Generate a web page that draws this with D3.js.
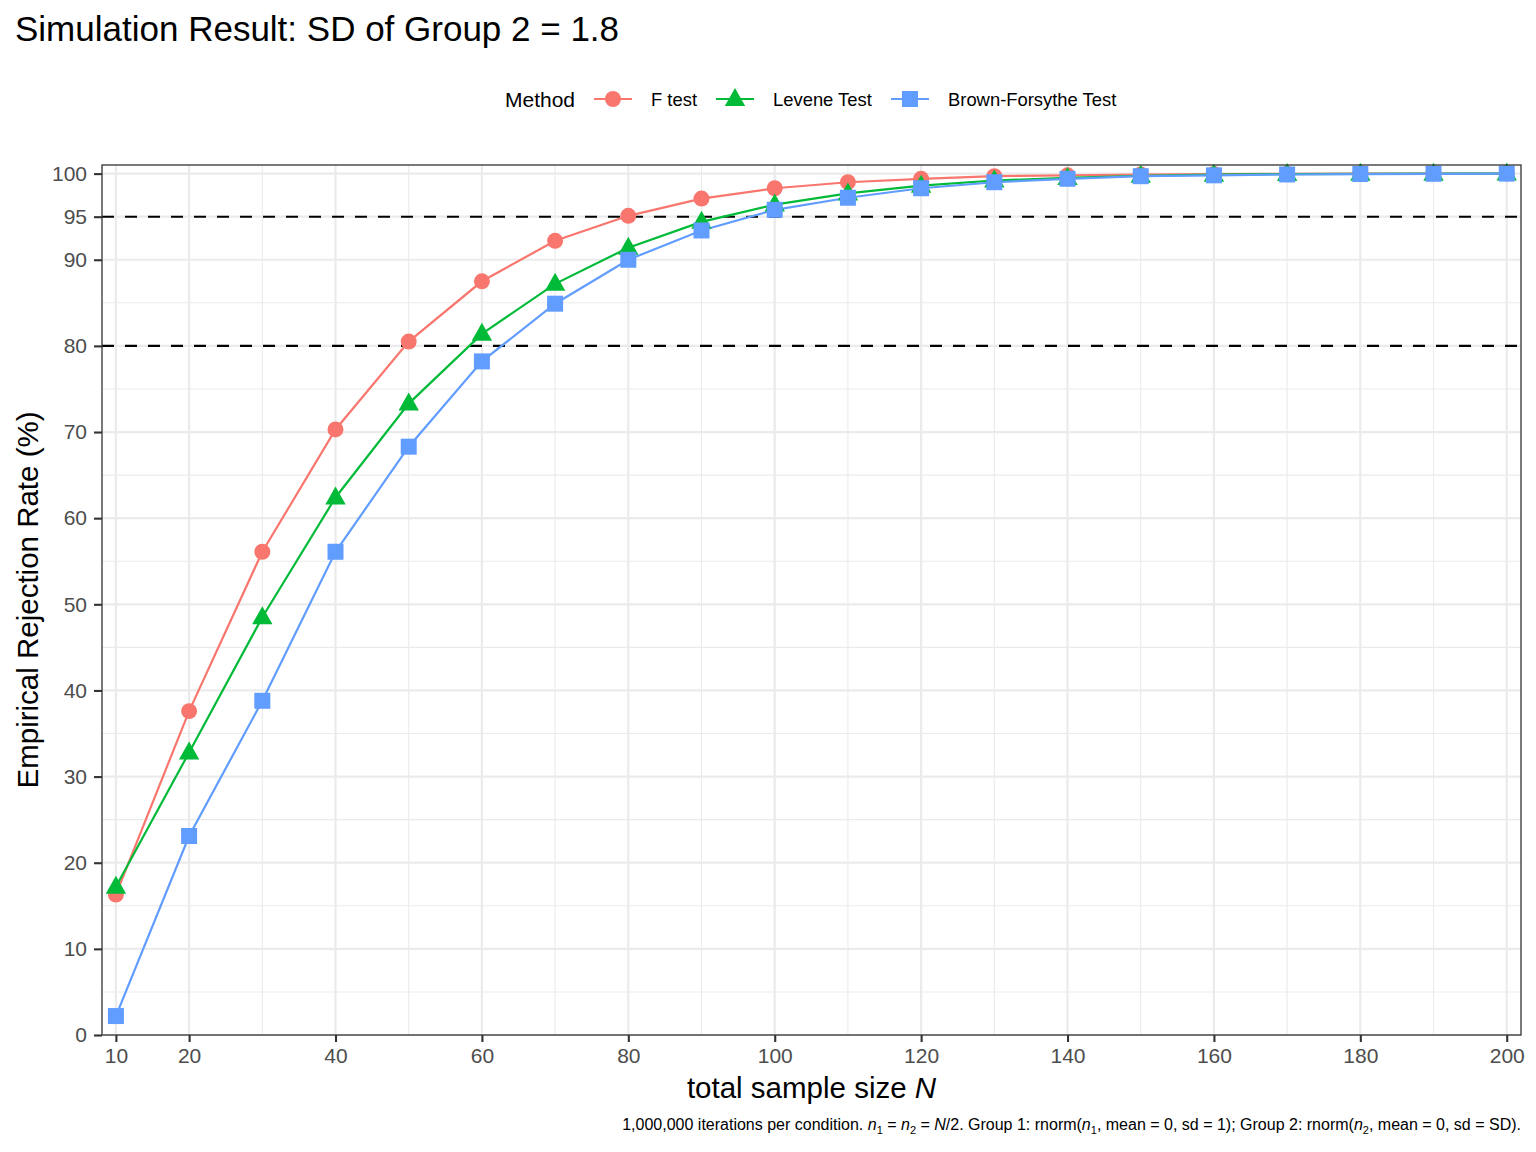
<!DOCTYPE html>
<html>
<head>
<meta charset="utf-8">
<script src="https://cdn.jsdelivr.net/npm/d3@7"></script>
<style>
  body { margin: 0; background: #fff; }
  svg { font-family: "Liberation Sans", Arial, sans-serif; }
</style>
</head>
<body>
<div id="chart"></div>
<script>
// Data
var sampleSizes = [10, 20, 30, 40, 50, 60, 70, 80, 90, 100, 110, 120, 130, 140, 150, 160, 170, 180, 190, 200];
var fTest = [16.3, 37.6, 56.1, 70.3, 80.5, 87.5, 92.2, 95.1, 97.1, 98.3, 99.0, 99.4, 99.7, 99.8, 99.9, 99.95, 99.98, 99.99, 100, 100];
var leveneTest = [17.2, 32.8, 48.5, 62.4, 73.3, 81.4, 87.2, 91.4, 94.4, 96.4, 97.7, 98.6, 99.2, 99.5, 99.75, 99.88, 99.95, 99.98, 99.99, 100];
var bfTest = [2.2, 23.1, 38.8, 56.1, 68.3, 78.2, 84.9, 90.0, 93.4, 95.8, 97.2, 98.3, 99.0, 99.4, 99.7, 99.8, 99.9, 99.95, 99.98, 100];
var methodNames = ["F test", "Levene Test", "Brown-Forsythe Test"];
var methodColors = ["#F8766D", "#00BA38", "#619CFF"];
var methodShapes = ["circle", "triangle", "square"];
var xBreaks = [10, 20, 40, 60, 80, 100, 120, 140, 160, 180, 200];
var xMinor = [30, 50, 70, 90, 110, 130, 150, 170, 190];
var yBreaks = [0, 10, 20, 30, 40, 50, 60, 70, 80, 90, 95, 100];
var yMinor = [5, 15, 25, 35, 45, 55, 65, 75, 85];
var refLines = [80, 95];

var W = 1536, H = 1152;
var panel = { left: 102, top: 165, right: 1521, bottom: 1035 };

var svg = d3.select("#chart").append("svg")
  .attr("width", W).attr("height", H);

var x = d3.scaleLinear().domain([8.1, 201.95]).range([panel.left, panel.right]);
var y = d3.scaleLinear().domain([0, 101]).range([panel.bottom, panel.top]);

var series = [fTest, leveneTest, bfTest].map(function(vals, i) {
  return {
    name: methodNames[i], color: methodColors[i], shape: methodShapes[i],
    values: sampleSizes.map(function(n, j) { return { n: n, v: vals[j] }; })
  };
});

// Title
svg.append("text").attr("x", 15).attr("y", 41)
  .attr("font-size", 35).attr("fill", "#000")
  .text("Simulation Result: SD of Group 2 = 1.8");

// Grid
var grid = svg.append("g");
grid.selectAll(".xminor").data(xMinor).enter().append("line")
  .attr("x1", function(d) { return x(d); }).attr("x2", function(d) { return x(d); })
  .attr("y1", panel.top).attr("y2", panel.bottom)
  .attr("stroke", "#EBEBEB").attr("stroke-width", 1.1);
grid.selectAll(".yminor").data(yMinor).enter().append("line")
  .attr("y1", function(d) { return y(d); }).attr("y2", function(d) { return y(d); })
  .attr("x1", panel.left).attr("x2", panel.right)
  .attr("stroke", "#EBEBEB").attr("stroke-width", 1.1);
grid.selectAll(".xmajor").data(xBreaks).enter().append("line")
  .attr("x1", function(d) { return x(d); }).attr("x2", function(d) { return x(d); })
  .attr("y1", panel.top).attr("y2", panel.bottom)
  .attr("stroke", "#EBEBEB").attr("stroke-width", 2.2);
grid.selectAll(".ymajor").data(yBreaks).enter().append("line")
  .attr("y1", function(d) { return y(d); }).attr("y2", function(d) { return y(d); })
  .attr("x1", panel.left).attr("x2", panel.right)
  .attr("stroke", "#EBEBEB").attr("stroke-width", 2.2);

// Reference lines
svg.selectAll(".ref").data(refLines).enter().append("line")
  .attr("x1", panel.left).attr("x2", panel.right)
  .attr("y1", function(d) { return y(d); }).attr("y2", function(d) { return y(d); })
  .attr("stroke", "#000").attr("stroke-width", 2.1)
  .attr("stroke-dasharray", "12,11");

// Lines
var line = d3.line()
  .x(function(d) { return x(d.n); })
  .y(function(d) { return y(d.v); });

svg.selectAll(".series").data(series).enter().append("path")
  .attr("d", function(d) { return line(d.values); })
  .attr("fill", "none")
  .attr("stroke", function(d) { return d.color; })
  .attr("stroke-width", 2.2);

// Point shapes
function shapePath(shape) {
  if (shape === "circle") return d3.symbol(d3.symbolCircle, 200)();
  if (shape === "triangle") return "M0,-11L10.2,7L-10.2,7Z";
  return "M-8,-8L8,-8L8,8L-8,8Z";
}

series.forEach(function(s) {
  svg.append("g").selectAll("path").data(s.values).enter().append("path")
    .attr("transform", function(d) { return "translate(" + x(d.n) + "," + y(d.v) + ")"; })
    .attr("d", shapePath(s.shape))
    .attr("fill", s.color);
});

// Panel border
svg.append("rect")
  .attr("x", panel.left).attr("y", panel.top)
  .attr("width", panel.right - panel.left).attr("height", panel.bottom - panel.top)
  .attr("fill", "none").attr("stroke", "#333333").attr("stroke-width", 1.3);

// Axes
var xAxis = svg.append("g")
  .attr("transform", "translate(0," + panel.bottom + ")")
  .call(d3.axisBottom(x).tickValues(xBreaks).tickSize(7).tickPadding(6));
var yAxis = svg.append("g")
  .attr("transform", "translate(" + panel.left + ",0)")
  .call(d3.axisLeft(y).tickValues(yBreaks).tickSize(8).tickPadding(7));
[xAxis, yAxis].forEach(function(a) {
  a.select(".domain").remove();
  a.selectAll(".tick line").attr("stroke", "#333333").attr("stroke-width", 2.1);
  a.selectAll(".tick text").attr("fill", "#4D4D4D").attr("font-size", 21)
    .attr("font-family", "'Liberation Sans', Arial, sans-serif");
});

// Axis titles
var xt = svg.append("text").attr("x", (panel.left + panel.right) / 2).attr("y", 1098)
  .attr("text-anchor", "middle").attr("font-size", 29.5).attr("fill", "#000");
xt.append("tspan").text("total sample size ");
xt.append("tspan").attr("font-style", "italic").text("N");

svg.append("text")
  .attr("transform", "translate(38," + ((panel.top + panel.bottom) / 2) + ") rotate(-90)")
  .attr("text-anchor", "middle").attr("font-size", 29.5).attr("fill", "#000")
  .text("Empirical Rejection Rate (%)");

// Legend
var legend = svg.append("g");
legend.append("text").attr("x", 505).attr("y", 106.5)
  .attr("font-size", 21).attr("fill", "#000").text("Method");
var keyX = [594, 716, 891];
series.forEach(function(s, i) {
  var g = legend.append("g").attr("transform", "translate(" + keyX[i] + ",99)");
  g.append("line").attr("x1", 0).attr("x2", 38).attr("y1", 0).attr("y2", 0)
    .attr("stroke", s.color).attr("stroke-width", 2.2);
  g.append("path").attr("transform", "translate(19,0)")
    .attr("d", shapePath(s.shape)).attr("fill", s.color);
  g.append("text").attr("x", 57).attr("y", 6.5)
    .attr("font-size", 18.4).attr("fill", "#000").text(s.name);
});

// Caption
var cap = svg.append("text").attr("x", 1521).attr("y", 1130)
  .attr("text-anchor", "end").attr("font-size", 16).attr("fill", "#000");
cap.append("tspan").text("1,000,000 iterations per condition. ");
cap.append("tspan").attr("font-style", "italic").text("n");
cap.append("tspan").attr("font-size", 11).attr("dy", 4).text("1");
cap.append("tspan").attr("dy", -4).text(" = ");
cap.append("tspan").attr("font-style", "italic").text("n");
cap.append("tspan").attr("font-size", 11).attr("dy", 4).text("2");
cap.append("tspan").attr("dy", -4).text(" = ");
cap.append("tspan").attr("font-style", "italic").text("N");
cap.append("tspan").text("/2. Group 1: rnorm(");
cap.append("tspan").attr("font-style", "italic").text("n");
cap.append("tspan").attr("font-size", 11).attr("dy", 4).text("1");
cap.append("tspan").attr("dy", -4).text(", mean = 0, sd = 1); Group 2: rnorm(");
cap.append("tspan").attr("font-style", "italic").text("n");
cap.append("tspan").attr("font-size", 11).attr("dy", 4).text("2");
cap.append("tspan").attr("dy", -4).text(", mean = 0, sd = SD).");
</script>
</body>
</html>
